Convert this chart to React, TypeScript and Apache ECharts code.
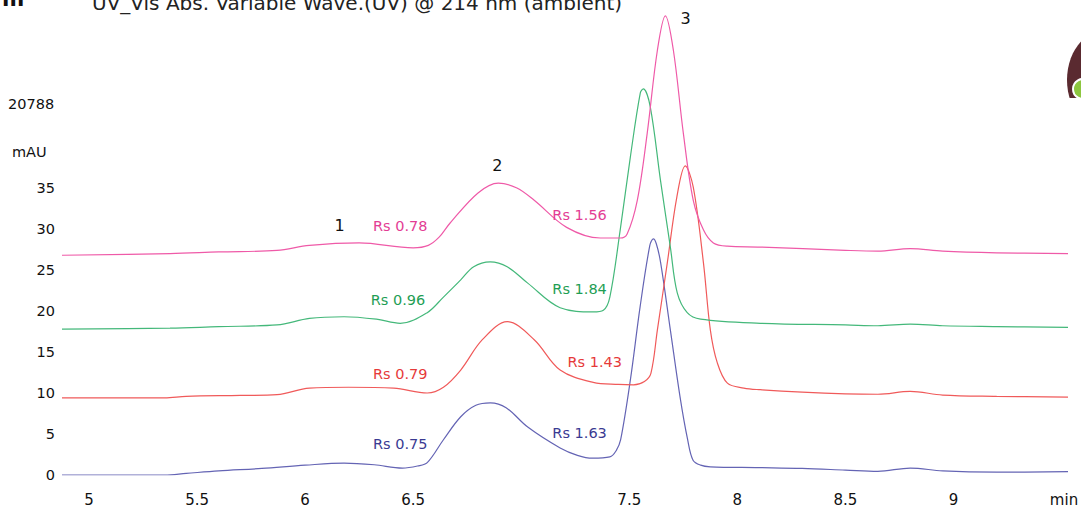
import React, { useEffect, useRef } from "react";
import * as echarts from "echarts";

const xTickValues = [5, 5.5, 6, 6.5, 7.5, 8, 8.5, 9];
const yTickMax = 35;

const blueTrace = [
  [4.875, 0], [5.35, 0], [5.45, 0.2], [5.6, 0.5], [5.8, 0.8], [6.0, 1.2], [6.18, 1.45], [6.32, 1.25],
  [6.45, 0.85], [6.52, 1.1], [6.565, 1.5], [6.64, 4.3], [6.72, 7.1], [6.79, 8.5], [6.857, 8.8],
  [6.93, 8.2], [7.03, 5.85], [7.18, 3.3], [7.26, 2.4], [7.33, 2.05], [7.41, 2.2], [7.44, 3.0],
  [7.46, 4.3], [7.505, 11.6], [7.55, 20.5], [7.595, 28.0], [7.611, 28.8], [7.625, 28.2],
  [7.645, 25.9], [7.69, 17.7], [7.735, 9.5], [7.77, 4.3], [7.795, 1.8], [7.83, 1.2], [7.875, 1.0],
  [8.1, 0.9], [8.3, 0.8], [8.5, 0.6], [8.65, 0.45], [8.8, 0.85], [8.95, 0.5], [9.2, 0.35], [9.53, 0.4],
];

const redTrace = [
  [4.875, 9.4], [5.35, 9.4], [5.45, 9.6], [5.7, 9.7], [5.87, 9.8], [6.02, 10.6], [6.2, 10.7],
  [6.41, 10.6], [6.565, 10.0], [6.64, 10.7], [6.72, 12.8], [6.82, 16.5], [6.935, 18.7],
  [7.06, 16.5], [7.18, 12.8], [7.333, 11.3], [7.45, 11.05], [7.52, 11.0], [7.57, 11.4], [7.6, 12.4],
  [7.63, 17.7], [7.676, 25.9], [7.72, 33.9], [7.759, 37.7], [7.796, 35.1], [7.843, 25.9],
  [7.875, 17.7], [7.907, 13.7], [7.954, 11.2], [8.03, 10.6], [8.106, 10.4], [8.3, 10.1],
  [8.5, 9.9], [8.65, 9.85], [8.8, 10.2], [8.95, 9.75], [9.2, 9.6], [9.53, 9.5],
];

const greenTrace = [
  [4.875, 17.8], [5.375, 17.9], [5.6, 18.1], [5.87, 18.3], [6.02, 19.1], [6.18, 19.3], [6.33, 19.0],
  [6.44, 18.5], [6.565, 19.8], [6.64, 21.7], [6.72, 23.8], [6.78, 25.4], [6.856, 26.0],
  [6.935, 25.4], [7.03, 23.4], [7.18, 20.4], [7.333, 19.9], [7.38, 20.1], [7.41, 21.7],
  [7.458, 29.9], [7.505, 38.8], [7.551, 46.6], [7.565, 47.1], [7.597, 44.9], [7.644, 36.0],
  [7.69, 27.8], [7.722, 22.2], [7.768, 19.8], [7.83, 19.0], [8.106, 18.5], [8.5, 18.3],
  [8.65, 18.2], [8.8, 18.4], [8.95, 18.2], [9.2, 18.1], [9.53, 18.0],
];

const pinkTrace = [
  [4.875, 26.8], [5.375, 27.0], [5.6, 27.2], [5.87, 27.4], [6.02, 28.0], [6.25, 28.3], [6.5, 27.7],
  [6.57, 28.0], [6.62, 29.0], [6.67, 30.7], [6.8, 34.4], [6.894, 35.6], [6.98, 35.0], [7.06, 33.5], [7.21, 30.2],
  [7.366, 28.9], [7.458, 28.9], [7.49, 29.4], [7.537, 33.5], [7.583, 41.7], [7.63, 51.8],
  [7.667, 56.0], [7.704, 51.8], [7.75, 41.7], [7.796, 33.5], [7.843, 29.9], [7.889, 28.3],
  [7.954, 27.9], [8.106, 27.8], [8.5, 27.4], [8.65, 27.3], [8.8, 27.6], [8.95, 27.3], [9.2, 27.1], [9.53, 27.0],
];

const pinkNotes = [
  { text: "Rs 0.78", t: 6.44, v: 30.4 },
  { text: "Rs 1.56", t: 7.27, v: 31.7 },
];
const greenNotes = [
  { text: "Rs 0.96", t: 6.43, v: 21.3 },
  { text: "Rs 1.84", t: 7.27, v: 22.7 },
];
const redNotes = [
  { text: "Rs 0.79", t: 6.44, v: 12.3 },
  { text: "Rs 1.43", t: 7.34, v: 13.8 },
];
const blueNotes = [
  { text: "Rs 0.75", t: 6.44, v: 3.8 },
  { text: "Rs 1.63", t: 7.27, v: 5.1 },
];
const peakNotes = [
  { text: "1", t: 6.16, v: 30.4 },
  { text: "2", t: 6.89, v: 37.7 },
  { text: "3", t: 7.76, v: 55.7 },
];

const FONT = "DejaVu Sans";

function notesToMark(notes: { text: string; t: number; v: number }[], color: string, size: number) {
  return {
    symbol: "circle",
    symbolSize: 1,
    itemStyle: { color: "transparent" },
    silent: true,
    data: notes.map((n) => ({
      coord: [n.t, n.v],
      label: {
        show: true,
        position: "inside",
        formatter: n.text,
        color,
        fontSize: size,
        fontFamily: FONT,
      },
    })),
  };
}

function makeSeries(name: string, data: number[][], lineColor: string, notes: any, textColor: string) {
  return {
    name,
    type: "line",
    data,
    smooth: 0.35,
    symbol: "none",
    lineStyle: { color: lineColor, width: 1.2 },
    itemStyle: { color: lineColor },
    markPoint: notesToMark(notes, textColor, 14.5),
    z: 2,
  };
}

export default function App() {
  const ref = useRef<HTMLDivElement>(null);
  useEffect(() => {
    document.body.style.margin = "0";
    if (!ref.current) return;
    const chart = echarts.init(ref.current, null, { renderer: "svg" });
    chart.setOption({
      animation: false,
      backgroundColor: "#ffffff",
      grid: { left: 62, right: 13, top: 11.7, bottom: 33, outerBoundsMode: "none", containLabel: false },
      xAxis: {
        type: "value",
        min: 4.875,
        max: 9.53,
        axisLine: { show: false },
        axisTick: { show: false },
        splitLine: { show: false },
        axisLabel: {
          customValues: xTickValues,
          margin: 17,
          color: "#111",
          fontSize: 15,
          fontFamily: FONT,
          showMinLabel: true,
          showMaxLabel: true,
        },
      },
      yAxis: {
        type: "value",
        min: 0,
        max: 56.5,
        interval: 5,
        axisLine: { show: false },
        axisTick: { show: false },
        splitLine: { show: false },
        axisLabel: {
          margin: 7,
          color: "#111",
          fontSize: 14.5,
          fontFamily: FONT,
          formatter: (v: number) => (v <= yTickMax ? String(v) : ""),
        },
      },
      series: [
        makeSeries("blue", blueTrace, "#6464b4", blueNotes, "#3a3a92"),
        makeSeries("red", redTrace, "#f05a5a", redNotes, "#e63a3a"),
        makeSeries("green", greenTrace, "#44b87a", greenNotes, "#1f9e55"),
        makeSeries("pink", pinkTrace, "#ef5aa8", pinkNotes, "#e33d94"),
        {
          name: "peaks",
          type: "scatter",
          data: [],
          markPoint: notesToMark(peakNotes, "#111", 16),
        },
      ],
      graphic: [
        { type: "text", x: 2, y: 9, style: { text: "III", font: `bold 20px ${FONT}`, fill: "#111", verticalAlign: "bottom" } },
        {
          type: "text",
          x: 92,
          y: 13,
          style: { text: "UV_Vis Abs. Variable Wave.(UV) @ 214 nm (ambient)", font: `20px ${FONT}`, fill: "#222", verticalAlign: "bottom" },
        },
        { type: "text", x: 8, y: 104, style: { text: "20788", font: `14.5px ${FONT}`, fill: "#111", verticalAlign: "middle" } },
        { type: "text", x: 12, y: 152, style: { text: "mAU", font: `14.5px ${FONT}`, fill: "#111", verticalAlign: "middle" } },
        { type: "text", x: 1064, y: 500, style: { text: "min", font: `15px ${FONT}`, fill: "#111", align: "center", verticalAlign: "middle" } },
        { type: "ellipse", shape: { cx: 1106, cy: 80, rx: 39, ry: 50 }, style: { fill: "#5a2a30" }, z: 1 },
        { type: "rect", shape: { x: 1060, y: 98, width: 30, height: 50 }, style: { fill: "#ffffff" }, z: 2 },
        { type: "circle", shape: { cx: 1083, cy: 89, r: 10 }, style: { fill: "#8dc63f", stroke: "#ffffff", lineWidth: 2 }, z: 3 },
      ],
    });
    return () => chart.dispose();
  }, []);
  return <div ref={ref} style={{ width: 1081, height: 508, position: "fixed", left: 0, top: 0 }} />;
}
